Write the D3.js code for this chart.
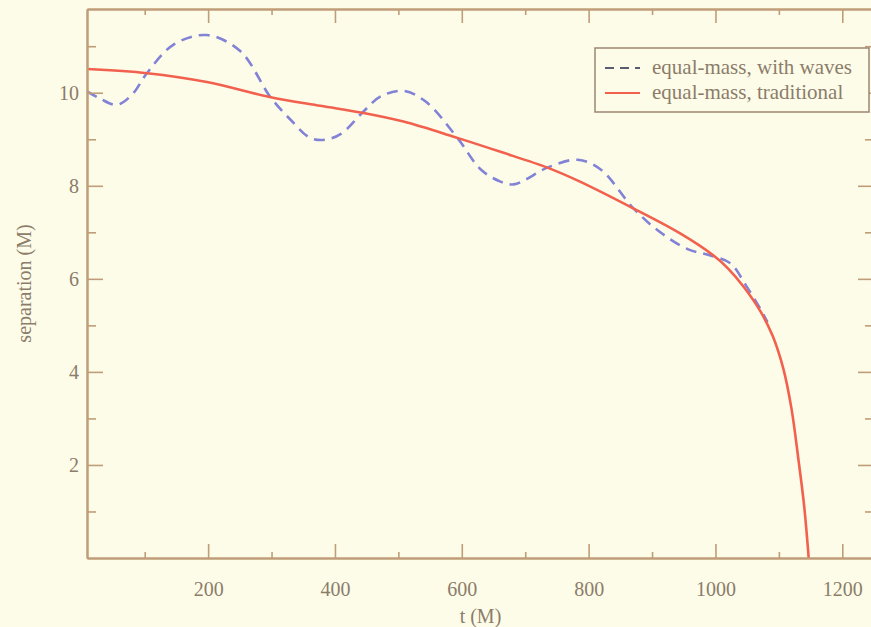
<!DOCTYPE html>
<html>
<head>
<meta charset="utf-8">
<script src="https://cdn.jsdelivr.net/npm/d3@7"></script>
<style>
body{margin:0;background:#fdfce9;}
svg{display:block;font-family:"Liberation Serif","DejaVu Serif",serif;}
</style>
</head>
<body>
<div id="wrapper"></div>
<script>
// Data
const tWaves=[9,30,56,80,104,145,198,251,298,330,361,385,410,443,472,508,543,593,630,661,682,700,735,783,819,871,913,956,992,1024,1048,1071,1082];
const sepWaves=[10.03,9.87,9.74,9.96,10.43,11.03,11.24,10.89,9.91,9.42,9.03,8.99,9.12,9.57,9.92,10.04,9.81,9.03,8.35,8.09,8.03,8.13,8.39,8.56,8.35,7.51,7.0,6.64,6.5,6.33,5.86,5.35,5.07];
const tTrad=[9,104,198,297,377,443,508,593,661,735,783,871,945,997,1020,1045,1071,1090,1107,1120,1131,1140,1147];
const sepTrad=[10.51,10.42,10.23,9.91,9.72,9.57,9.38,9.03,8.73,8.39,8.11,7.51,6.97,6.5,6.22,5.82,5.3,4.78,4.07,3.2,2.1,1.1,0];
const xTicks=[200,400,600,800,1000,1200];
const xMinor=[100,300,500,700,900,1100];
const yTicks=[2,4,6,8,10];
const yMinor=[1,3,5,7,9,11];
const legendLabels=["equal-mass, with waves","equal-mass, traditional"];

const dimension={width:871,height:627,
  margin:{top:9,left:87,right:-3,bottom:69}};
dimension.boundedWidth=dimension.width-dimension.margin.left-dimension.margin.right;
dimension.boundedHeight=dimension.height-dimension.margin.top-dimension.margin.bottom;

const axisColor="#bf9d78", textColor="#8c7c6a";

const xScale=d3.scaleLinear().domain([9,1250]).range([0,dimension.boundedWidth]);
const yScale=d3.scaleLinear().domain([0,11.8]).range([dimension.boundedHeight,0]);

const wrapper=d3.select("#wrapper").append("svg")
  .attr("width",dimension.width).attr("height",dimension.height);
wrapper.append("rect").attr("width",dimension.width).attr("height",dimension.height).attr("fill","#fdfce9");
const bounded=wrapper.append("g")
  .attr("transform",`translate(${dimension.margin.left},${dimension.margin.top})`);

// lines
const wavesData=tWaves.map((t,i)=>({t,s:sepWaves[i]}));
const tradData=tTrad.map((t,i)=>({t,s:sepTrad[i]}));
const lineGen=d3.line().x(d=>xScale(d.t)).y(d=>yScale(d.s)).curve(d3.curveCatmullRom.alpha(0.5));

bounded.append("path").datum(wavesData).attr("d",lineGen)
  .attr("fill","none").attr("stroke","#8282d6").attr("stroke-width",2.6)
  .attr("stroke-dasharray","11,7");
bounded.append("path").datum(tradData).attr("d",lineGen)
  .attr("fill","none").attr("stroke","#f2604e").attr("stroke-width",2.6);

// axes, ticks pointing inward on every side
const W=dimension.boundedWidth, H=dimension.boundedHeight;
const fmt=d3.format("d");
bounded.append("g").attr("transform",`translate(0,${H})`)
  .call(d3.axisBottom(xScale).tickValues(xTicks).tickFormat(fmt).tickSizeInner(-14).tickSizeOuter(0).tickPadding(24));
bounded.append("g").attr("transform",`translate(0,${H})`)
  .call(d3.axisBottom(xScale).tickValues(xMinor).tickSizeInner(-6).tickSizeOuter(0).tickFormat(""));
bounded.append("g")
  .call(d3.axisTop(xScale).tickValues(xTicks).tickSizeInner(-14).tickSizeOuter(0).tickFormat(""));
bounded.append("g")
  .call(d3.axisTop(xScale).tickValues(xMinor).tickSizeInner(-6).tickSizeOuter(0).tickFormat(""));
bounded.append("g")
  .call(d3.axisLeft(yScale).tickValues(yTicks).tickFormat(fmt).tickSizeInner(-16).tickSizeOuter(0).tickPadding(8));
bounded.append("g")
  .call(d3.axisLeft(yScale).tickValues(yMinor).tickSizeInner(-9).tickSizeOuter(0).tickFormat(""));
bounded.append("g").attr("transform",`translate(${W},0)`)
  .call(d3.axisRight(yScale).tickValues(yTicks).tickSizeInner(-16).tickSizeOuter(0).tickFormat(""));
bounded.append("g").attr("transform",`translate(${W},0)`)
  .call(d3.axisRight(yScale).tickValues(yMinor).tickSizeInner(-9).tickSizeOuter(0).tickFormat(""));

bounded.selectAll(".domain").attr("stroke",axisColor).attr("stroke-width",2);
bounded.selectAll(".tick line").attr("stroke",axisColor).attr("stroke-width",1.6);
bounded.selectAll(".tick text").attr("fill",textColor).attr("font-size","20px")
  .attr("font-family","Liberation Serif, serif");

// axis labels
bounded.append("text").attr("x",W/2).attr("y",H+65)
  .attr("text-anchor","middle").attr("fill",textColor).attr("font-size","20px").text("t (M)");
bounded.append("text")
  .attr("transform",`translate(${-dimension.margin.left+31},${H/2}) rotate(-90)`)
  .attr("text-anchor","middle").attr("fill",textColor).attr("font-size","20px").text("separation (M)");

// legend
const legend=wrapper.append("g").attr("transform","translate(595,48)");
legend.append("rect").attr("width",274).attr("height",64)
  .attr("fill","#fdfce9").attr("stroke","#9c8672").attr("stroke-width",1.5);
const legendStyles=[{stroke:"#5a5c70",dash:"9,6"},{stroke:"#f2604e",dash:null}];
legendLabels.forEach((label,i)=>{
  const y=20+i*25;
  legend.append("line").attr("x1",10).attr("x2",45).attr("y1",y).attr("y2",y)
    .attr("stroke",legendStyles[i].stroke).attr("stroke-width",2.2)
    .attr("stroke-dasharray",legendStyles[i].dash);
  legend.append("text").attr("x",57).attr("y",y+6).attr("fill",textColor)
    .attr("font-size","21px").text(label);
});
</script>
</body>
</html>
